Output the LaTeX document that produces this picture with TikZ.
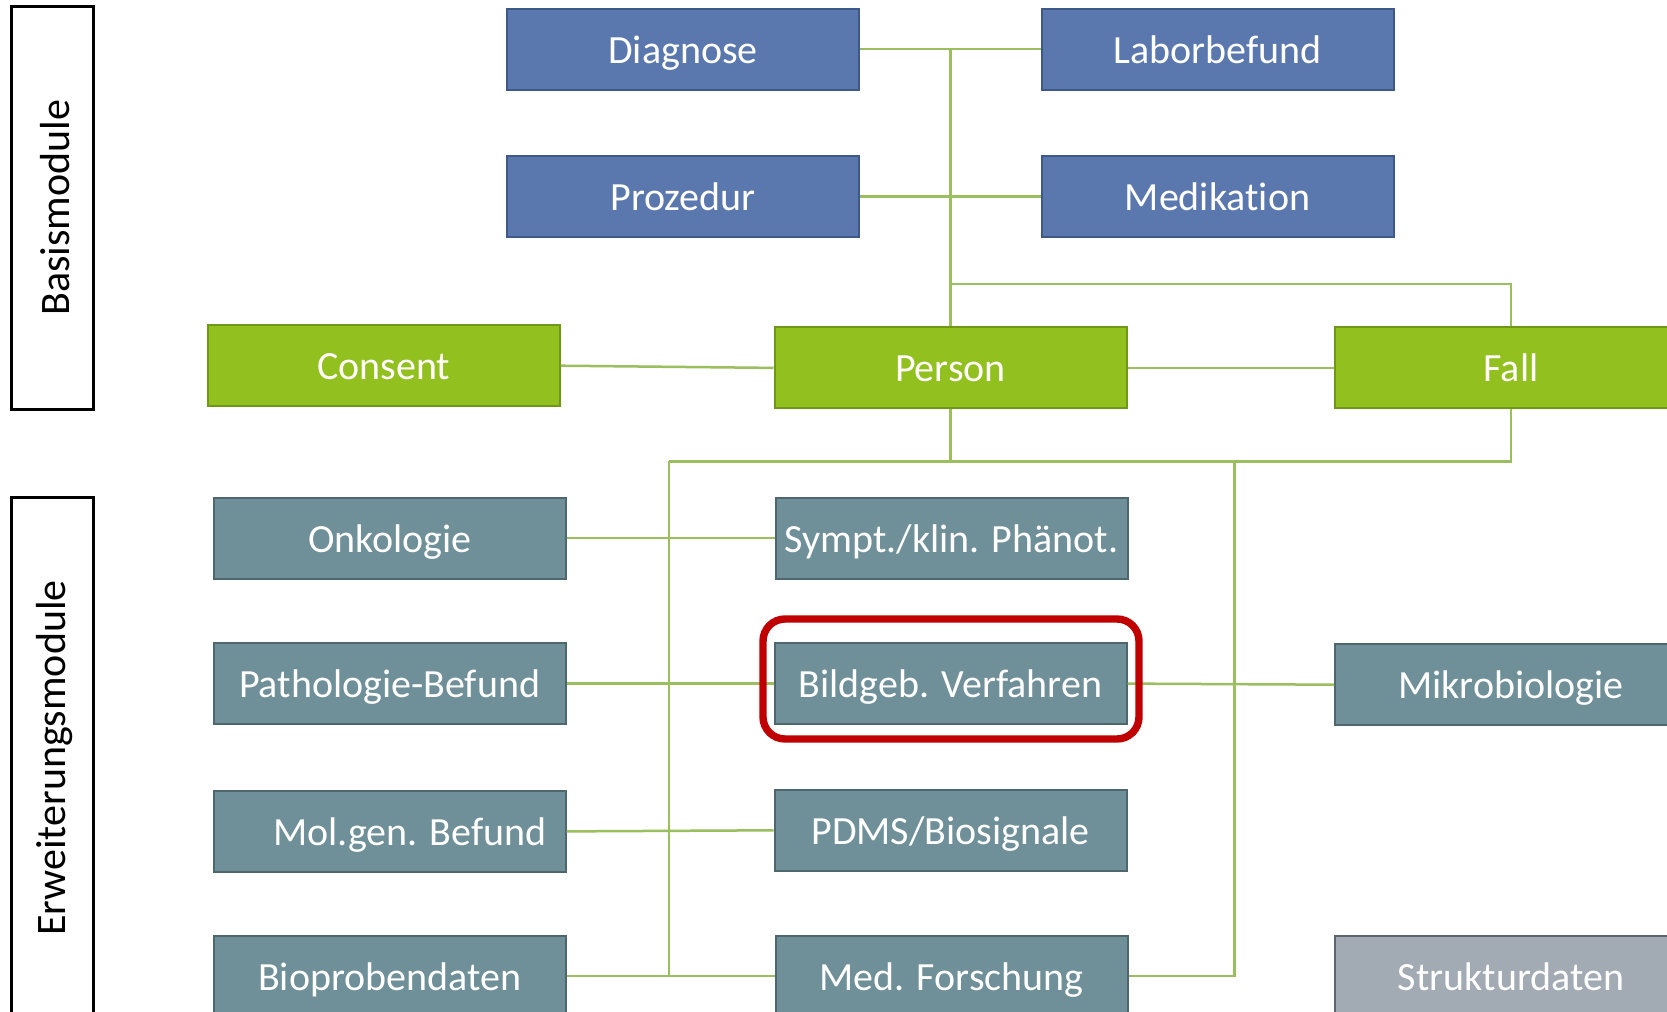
\documentclass[tikz,border=0pt]{standalone}
\usepackage{fontspec}
\setmainfont{Carlito}[Ligatures=NoCommon]
\definecolor{bfill}{RGB}{91,120,174}
\definecolor{bdraw}{RGB}{62,88,136}
\definecolor{gfill}{RGB}{146,192,30}
\definecolor{gdraw}{RGB}{112,152,22}
\definecolor{tfill}{RGB}{111,143,153}
\definecolor{tdraw}{RGB}{78,102,110}
\definecolor{sfill}{RGB}{162,170,180}
\definecolor{sdraw}{RGB}{92,100,110}
\definecolor{lgreen}{RGB}{155,190,95}
\definecolor{hlred}{RGB}{192,0,0}
\begin{document}
\begin{tikzpicture}[x=0.5pt,y=-0.5pt,
  mod/.style={draw, line width=1pt, minimum width=176pt, minimum height=40.5pt, inner sep=0pt, text height=14pt, text depth=0pt, text=white, font=\fontsize{20}{24}\selectfont},
  basis/.style={mod, fill=bfill, draw=bdraw},
  core/.style={mod, fill=gfill, draw=gdraw},
  ext/.style={mod, fill=tfill, draw=tdraw},
  struct/.style={mod, fill=sfill, draw=sdraw},
  link/.style={draw=lgreen, line width=1.25pt},
  sidebox/.style={draw=black, line width=1.2pt, fill=white, minimum width=41pt, inner sep=0pt},
  sidelabel/.style={rotate=90, font=\fontsize{21}{25}\selectfont, text=black, inner sep=0pt},
  hl/.style={draw=hlred, line width=3.7pt, rounded corners=11pt}
]
\path[clip] (0,0) rectangle (1667,1012);
\fill[white] (0,0) rectangle (1667,1012);

% side boxes
\node[sidebox, minimum height=201.5pt] (sbA) at (52.6,207.9) {};
\node[sidelabel] (lbA) at (55,207.9) {Basismodule};
\node[sidebox, minimum height=260.4pt] (sbB) at (52.6,758) {};
\node[sidelabel] (lbB) at (55,758) {Erweiterungsmodule};

% basis modules
\node[basis] (diag)  at (683,49)    {Diagnose};
\node[basis] (labor) at (1217.5,49) {Laborbefund};
\node[basis] (proz)  at (683,196.7) {Prozedur};
\node[basis] (medi)  at (1217.5,196.7) {Medikation};

% core
\node[core] (consent) at (383.8,365.7) {Consent};
\node[core] (person)  at (950.5,367.9) {Person};
\node[core] (fall)    at (1511,367.9)  {Fall};

% extension modules
\node[ext] (onko)  at (390,538)     {Onkologie};
\node[ext] (sympt) at (951.6,538)   {Sympt./klin. Phänot.};
\node[ext] (path)  at (389.7,683.6) {Pathologie-Befund};
\node[ext] (bild)  at (950.5,683.6) {Bildgeb. Verfahren};
\node[ext] (mikro) at (1511,684.7)  {Mikrobiologie};
\node[ext] (molg)  at (389.7,831.4) {\hspace*{20pt}Mol.gen. Befund};
\node[ext] (pdms)  at (950.5,830.3) {PDMS/Biosignale};
\node[ext] (bio)   at (389.7,976)   {Bioprobendaten};
\node[ext] (medf)  at (951.6,976)   {Med. Forschung};
\node[struct] (strukt) at (1511,976) {Strukturdaten};

% coordinates for buses
\coordinate (topbus) at (950.5,283.9);
\coordinate (busL) at (668.8,461.4);
\coordinate (busR) at (1234.4,461.4);

% connectors (basis)
\draw[link] (diag.east) -- (labor.west);
\draw[link] (proz.east) -- (medi.west);
\draw[link] (person.north) -- (person.north |- labor.west);
\draw[link] (topbus) -| (fall.north);
\draw[link] (consent.east) -- (person.west);
\draw[link] (person.east) -- (fall.west);

% connectors (lower bus)
\draw[link] (person.south) -- (person.south |- busL);
\draw[link] (busL) -- (fall.south |- busL) -- (fall.south);
\draw[link] (busL) -- (busL |- bio.east);
\draw[link] (busR) |- (medf.east);

% extension pairs
\draw[link] (onko.east) -- (sympt.west);
\draw[link] (path.east) -- (bild.west);
\draw[link] (bild.east) -- (mikro.west);
\draw[link] (molg.east) -- (pdms.west);
\draw[link] (bio.east) -- (medf.west);

% highlight
\draw[hl] (763,619) rectangle (1139,739);
\end{tikzpicture}
\end{document}
